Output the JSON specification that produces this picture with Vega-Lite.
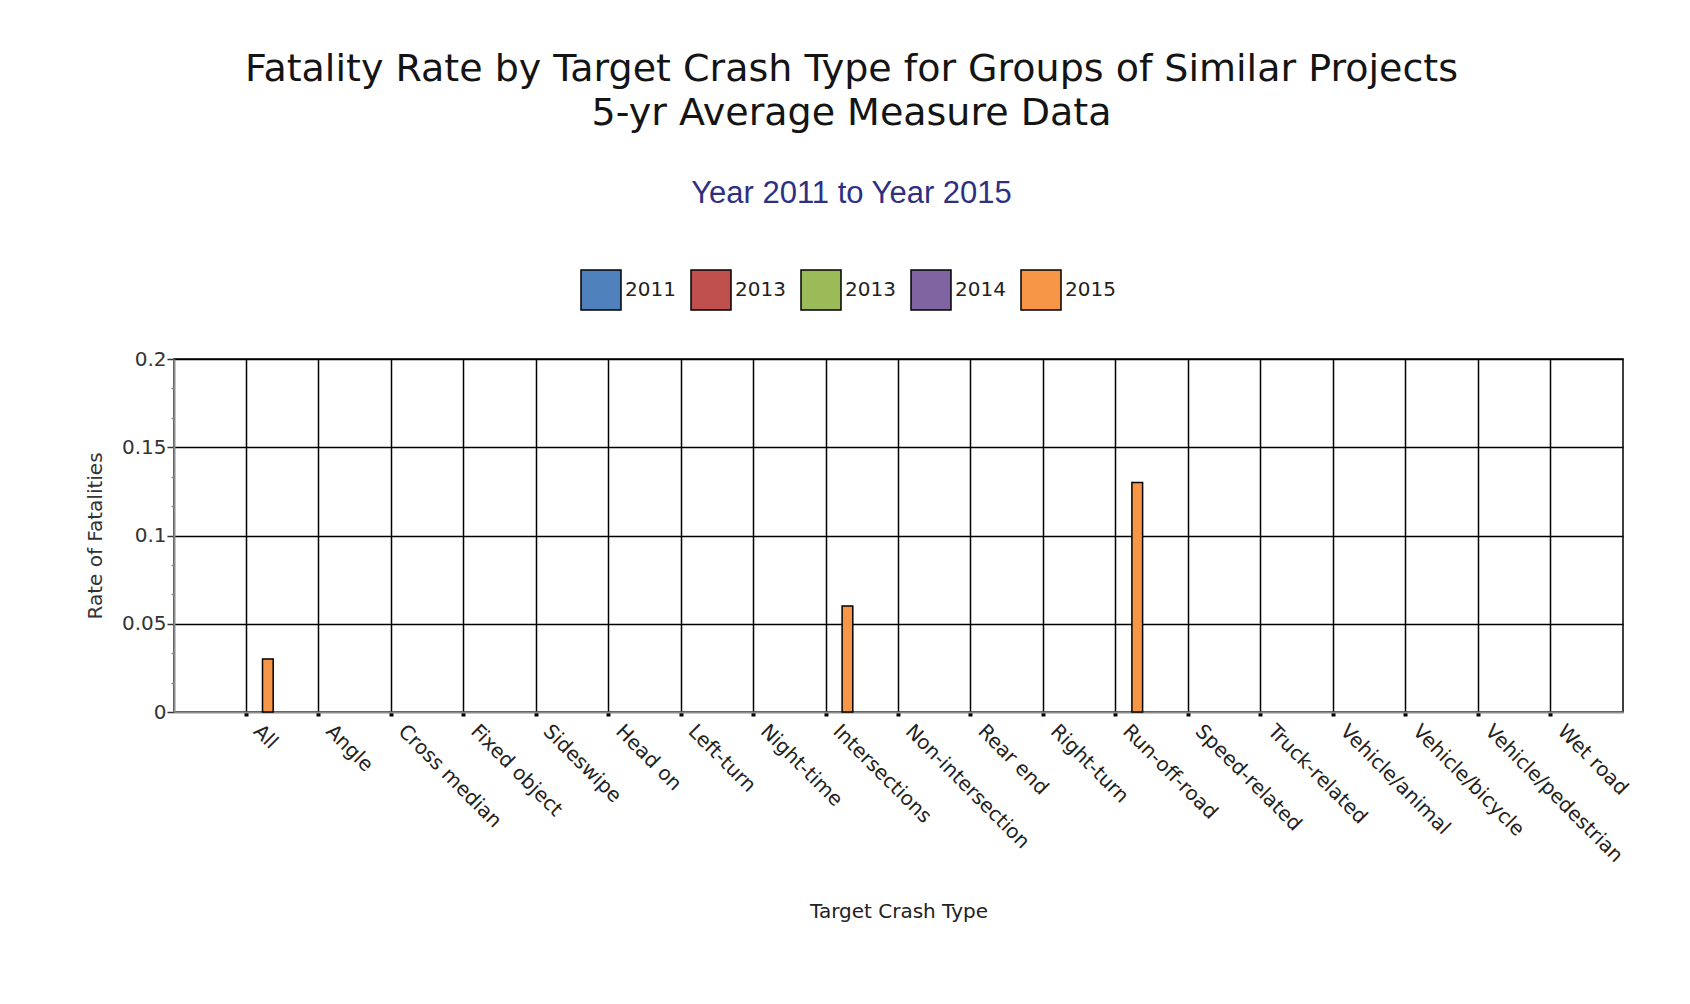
{
  "$schema": "https://vega.github.io/schema/vega-lite/v6.json",
  "width": 1449,
  "height": 353,
  "autosize": {"type": "none"},
  "padding": {"left": 174, "top": 359, "right": 67, "bottom": 292},
  "background": "white",
  "config": {
    "view": {"stroke": "black", "strokeWidth": 1.5},
    "font": "DejaVu Sans"
  },
  "title": {
    "text": ["Fatality Rate by Target Crash Type for Groups of Similar Projects", "5-yr Average Measure Data"],
    "subtitle": "Year 2011 to Year 2015",
    "anchor": "middle",
    "frame": "group",
    "font": "DejaVu Sans",
    "fontSize": 38,
    "fontWeight": "normal",
    "color": "#141414",
    "lineHeight": 44,
    "subtitleFont": "Liberation Sans",
    "subtitleFontSize": 31,
    "subtitleColor": "#2E3082",
    "subtitlePadding": 46,
    "offset": 60,
    "dx": -47
  },
  "data": {
    "values": [
      {"type": "All", "year": "2015", "rate": 0.03},
      {"type": "Intersections", "year": "2015", "rate": 0.06},
      {"type": "Run-off-road", "year": "2015", "rate": 0.13}
    ]
  },
  "mark": {"type": "bar", "stroke": "black", "strokeWidth": 1.5},
  "encoding": {
    "x": {
      "field": "type",
      "type": "nominal",
      "sort": null,
      "scale": {
        "domain": ["All", "Angle", "Cross median", "Fixed object", "Sideswipe", "Head on", "Left-turn", "Night-time", "Intersections", "Non-intersection", "Rear end", "Right-turn", "Run-off-road", "Speed-related", "Truck-related", "Vehicle/animal", "Vehicle/bicycle", "Vehicle/pedestrian", "Wet road"],
        "paddingInner": 0,
        "paddingOuter": 0.5
      },
      "axis": {
        "title": "Target Crash Type",
        "titleFont": "DejaVu Sans",
        "titleFontSize": 20,
        "titleFontWeight": "normal",
        "titleColor": "#222",
        "titlePadding": 36,
        "bandPosition": 0.5,
        "grid": true,
        "gridColor": "black",
        "gridWidth": 1.5,
        "ticks": true,
        "tickSize": 4,
        "tickWidth": 4,
        "tickColor": "black",
        "domainColor": "#8c8c8c",
        "domainWidth": 2,
        "labelAngle": 45,
        "labelAlign": "left",
        "labelBaseline": "alphabetic",
        "labelPadding": 16,
        "labelOffset": 6,
        "labelFont": "DejaVu Sans",
        "labelFontSize": 20,
        "labelColor": "#222",
        "labelLimit": 0,
        "labelOverlap": false
      }
    },
    "xOffset": {
      "field": "year",
      "type": "nominal",
      "scale": {"domain": ["2011", "2012", "2013", "2014", "2015"], "paddingInner": 0, "paddingOuter": 0.885}
    },
    "y": {
      "field": "rate",
      "type": "quantitative",
      "title": "Rate of Fatalities",
      "scale": {"domain": [0, 0.2], "nice": false},
      "axis": {
        "values": [0, 0.0166667, 0.0333333, 0.05, 0.0666667, 0.0833333, 0.1, 0.1166667, 0.1333333, 0.15, 0.1666667, 0.1833333, 0.2],
        "labelExpr": "abs(datum.value*20 - round(datum.value*20)) < 0.001 ? format(round(datum.value*20)/20, '~g') : ''",
        "labelOverlap": false,
        "labelFlush": false,
        "labelFont": "DejaVu Sans",
        "labelFontSize": 20,
        "labelColor": "#333",
        "labelPadding": 1,
        "grid": true,
        "gridColor": "black",
        "gridWidth": 1.5,
        "gridOpacity": {"condition": {"test": "abs(datum.value*20 - round(datum.value*20)) < 0.001 && datum.value > 0.001", "value": 1}, "value": 0},
        "tickSize": {"condition": {"test": "abs(datum.value*20 - round(datum.value*20)) < 0.001", "value": 7}, "value": 3},
        "tickColor": {"condition": {"test": "abs(datum.value*20 - round(datum.value*20)) < 0.001", "value": "#333"}, "value": "#888"},
        "tickWidth": 1.5,
        "domainColor": "#8c8c8c",
        "domainWidth": 2,
        "title": "Rate of Fatalities",
        "titleFont": "DejaVu Sans",
        "titleFontSize": 20,
        "titleFontWeight": "normal",
        "titleColor": "#333",
        "titlePadding": 16
      }
    },
    "color": {
      "field": "year",
      "type": "nominal",
      "scale": {
        "domain": ["2011", "2012", "2013", "2014", "2015"],
        "range": ["#4F81BD", "#C0504D", "#9BBB59", "#8064A2", "#F79646"]
      },
      "legend": {
        "title": null,
        "orient": "none",
        "legendX": 406,
        "legendY": -90,
        "direction": "horizontal",
        "padding": 0,
        "symbolType": "square",
        "symbolSize": 1600,
        "symbolStrokeColor": "black",
        "symbolStrokeWidth": 1.5,
        "symbolOpacity": 1,
        "labelFont": "DejaVu Sans",
        "labelFontSize": 20,
        "labelColor": "#222",
        "labelOffset": 3,
        "columnPadding": 12,
        "labelExpr": "datum.label == '2012' ? '2013' : datum.label"
      }
    }
  }
}
